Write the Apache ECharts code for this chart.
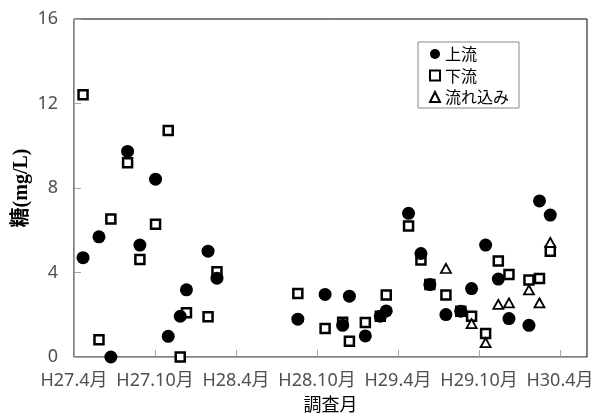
<!DOCTYPE html>
<html>
<head>
<meta charset="utf-8">
<script src="https://cdn.jsdelivr.net/npm/echarts@6/dist/echarts.min.js"></script>
<style>
  html, body { margin: 0; padding: 0; background: #fff; }
  #chart { width: 604px; height: 416px; }
</style>
</head>
<body>
<div id="chart"></div>
<script>
// Survey timing, in months counted from April H27 (2015)
const surveyTimes = [
  0.67, 1.85, 2.73, 3.97, 4.88, 6.04, 6.98, 7.87, 8.33, 9.93,
  10.59, 16.58, 18.60, 19.90, 20.40, 21.58, 22.69, 23.13, 24.78, 25.70,
  26.36, 27.55, 28.65, 29.45, 30.49, 31.43, 32.22, 33.70, 34.48, 35.28
];

// Sugar concentration (mg/L)
const upstream = [
  4.70, 5.69, 0.00, 9.73, 5.30, 8.42, 0.98, 1.93, 3.18, 5.01,
  3.73, 1.79, 2.96, 1.50, 2.88, 1.00, 1.93, 2.18, 6.80, 4.90,
  3.43, 2.01, 2.17, 3.24, 5.30, 3.69, 1.82, 1.50, 7.39, 6.72
];
const downstream = [
  12.41, 0.82, 6.53, 9.20, 4.62, 6.28, 10.72, 0.00, 2.10, 1.90,
  4.03, 3.01, 1.35, 1.64, 0.74, 1.63, 1.93, 2.93, 6.20, 4.59,
  3.43, 2.93, 2.17, 1.93, 1.11, 4.54, 3.91, 3.64, 3.72, 5.01
];
const inflow = [
  null, null, null, null, null, null, null, null, null, null,
  null, null, null, null, null, null, null, null, null, null,
  null, 4.19, null, 1.58, 0.68, 2.49, 2.56, 3.18, 2.56, 5.43
];

const seriesNames = ['上流', '下流', '流れ込み'];
const xTickLabels = ['H27.4月', 'H27.10月', 'H28.4月', 'H28.10月', 'H29.4月', 'H29.10月', 'H30.4月'];
const yTicks = [0, 4, 8, 12, 16];

function pairs(values) {
  const out = [];
  values.forEach((v, i) => { if (v !== null) out.push([surveyTimes[i], v]); });
  return out;
}

const tickFont = { fontSize: 18, color: '#505050', fontFamily: '"Noto Sans", "Noto Sans CJK JP", sans-serif' };

const chart = echarts.init(document.getElementById('chart'), null, { renderer: 'canvas' });
chart.setOption({
  animation: false,
  backgroundColor: '#fff',
  grid: {
    left: 74, right: 17, top: 19, bottom: 59,
    containLabel: false,
    outerBoundsMode: 'none',
    show: true, borderColor: '#000', borderWidth: 1
  },
  legend: {
    orient: 'vertical',
    left: 418, top: 42,
    padding: [4, 10, 3, 11],
    itemGap: 5.5,
    itemWidth: 10, itemHeight: 10,
    borderColor: '#888', borderWidth: 1,
    backgroundColor: '#fff',
    textStyle: { fontSize: 16, color: '#000', fontFamily: '"Noto Sans CJK JP", sans-serif' },
    data: [
      { name: seriesNames[0], icon: 'circle' },
      { name: seriesNames[1], icon: 'rect' },
      { name: seriesNames[2], icon: 'triangle' }
    ]
  },
  xAxis: {
    type: 'value',
    min: 0, max: 38, interval: 6,
    name: '調査月',
    nameLocation: 'middle',
    nameGap: 33,
    nameTextStyle: { fontSize: 18, color: '#000', fontFamily: '"Noto Sans CJK JP", sans-serif' },
    splitLine: { show: false },
    axisLine: { show: true, lineStyle: { color: '#a6a6a6', width: 1 } },
    axisTick: { show: true, inside: true, length: 7, lineStyle: { color: '#a6a6a6' } },
    axisLabel: Object.assign({
      margin: 15,
      showMaxLabel: false,
      formatter: v => (v % 6 === 0 ? (xTickLabels[v / 6] || '') : '')
    }, tickFont)
  },
  yAxis: {
    type: 'value',
    min: yTicks[0], max: yTicks[yTicks.length - 1], interval: 4,
    name: '糖(mg/L)',
    nameLocation: 'middle',
    nameRotate: 90,
    nameGap: 42,
    nameMoveOverlap: false,
    nameTextStyle: { fontSize: 20, fontWeight: 'bold', color: '#000', fontFamily: '"Liberation Serif", "Noto Sans CJK JP", serif' },
    splitLine: { show: false },
    axisLine: { show: true, lineStyle: { color: '#a6a6a6', width: 1 } },
    axisTick: { show: true, inside: true, length: 7, lineStyle: { color: '#a6a6a6' } },
    axisLabel: Object.assign({ margin: 16 }, tickFont)
  },
  series: [
    {
      name: seriesNames[1],
      type: 'scatter',
      z: 2,
      symbol: 'rect',
      symbolSize: 9,
      itemStyle: { color: '#fff', borderColor: '#000', borderWidth: 2.5, opacity: 1 },
      data: pairs(downstream)
    },
    {
      name: seriesNames[0],
      type: 'scatter',
      z: 3,
      symbol: 'circle',
      symbolSize: 13,
      itemStyle: { color: '#000', opacity: 1 },
      data: pairs(upstream)
    },
    {
      name: seriesNames[2],
      type: 'scatter',
      z: 4,
      symbol: 'triangle',
      symbolSize: [10, 9],
      itemStyle: { color: '#fff', borderColor: '#000', borderWidth: 1.8, opacity: 1 },
      data: pairs(inflow)
    }
  ]
});
</script>
</body>
</html>
